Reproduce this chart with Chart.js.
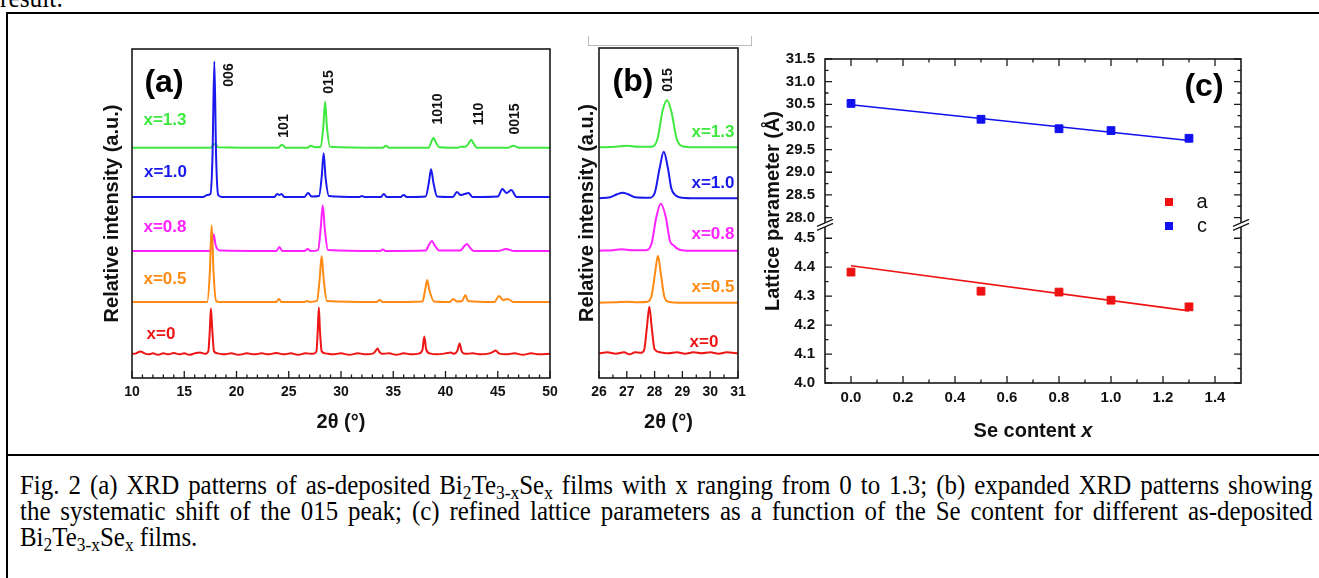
<!DOCTYPE html>
<html lang="en">
<head>
<meta charset="utf-8">
<title>Fig. 2 XRD Bi2Te3-xSex</title>
<script src="https://cdn.jsdelivr.net/npm/chart.js@4.4.0/dist/chart.umd.min.js"></script>
<style>
html,body{margin:0;padding:0;background:#fff}
body{width:1319px;height:578px;overflow:hidden;position:relative;font-family:"Liberation Sans",Arial,sans-serif;color:#111}
canvas{position:absolute}
.cell{position:absolute;left:6px;top:12px;width:1400px;height:600px;border-left:2px solid #000;border-top:2px solid #000}
.sep{position:absolute;left:6px;top:454px;width:1400px;border-top:2px solid #000}
.prev{position:absolute;left:0;top:-13px;font:27px/22px "Liberation Serif","Times New Roman",serif;color:#000;transform:scaleX(.94);transform-origin:0 0}
.cap{position:absolute;left:20px;top:472px;width:1375px;font:26.5px/26px "Liberation Serif","Times New Roman",serif;color:#000;transform:scaleX(.94);transform-origin:0 0}
.cap div{text-align:justify;text-align-last:justify;white-space:nowrap}
.cap div.last{text-align:left;text-align-last:left}
.cap sub{font-size:.7em;line-height:0;vertical-align:-.25em}
.lab{position:absolute;transform:translate(-50%,-50%);font-weight:bold;white-space:nowrap}
.rot{transform:translate(-50%,-50%) rotate(-90deg)}
.bracket{position:absolute;left:588px;top:36px;width:162px;height:9px;border:1.5px solid #bbb;border-top:none}
.sq{position:absolute;width:8px;height:8px;transform:translate(-50%,-50%)}
</style>
</head>
<body>
<div class="prev">result.</div>
<div class="cell"></div>
<div class="sep"></div>
<div class="bracket"></div>

<canvas id="chartA" width="470" height="400" style="left:95px;top:40px"></canvas>
<canvas id="chartB" width="185" height="400" style="left:570px;top:40px"></canvas>
<canvas id="chartC" width="500" height="415" style="left:760px;top:40px"></canvas>

<div id="labels"></div>

<div class="cap">
  <div>Fig. 2 (a) XRD patterns of as-deposited Bi<sub>2</sub>Te<sub>3-x</sub>Se<sub>x</sub> films with x ranging from 0 to 1.3; (b) expanded XRD patterns showing</div>
  <div>the systematic shift of the 015 peak; (c) refined lattice parameters as a function of the Se content for different as-deposited</div>
  <div class="last">Bi<sub>2</sub>Te<sub>3-x</sub>Se<sub>x</sub> films.</div>
</div>

<script>
/* ---------- data ---------- */
const sampleNames = ['x=0', 'x=0.5', 'x=0.8', 'x=1.0', 'x=1.3'];
const sampleColors = ['#ee1515', '#ff8a14', '#ff22ff', '#1a1aee', '#3ee83e'];

/* (a) full patterns: [2theta, intensity above own baseline] */
const offsetsA = [23.7, 76.3, 127.3, 181.5, 231];
const patA_x0 = [[10,0.5],[10.4,1],[10.8,3],[11.2,1],[11.6,0],[12.0,1],[12.5,-0.5],[13.0,1],[13.5,0],[14.0,1.5],[14.5,0],[15.0,1],[15.5,-0.5],[16.0,1],[16.5,2],[17.0,0.5],[17.3,3],[17.45,25],[17.55,46],[17.68,25],[17.85,3],[18.2,1],[18.8,0],[19.5,1],[20.2,-0.5],[21.0,1],[21.7,0],[22.4,1],[23.1,0],[23.8,1.5],[24.5,0],[25.2,1],[25.9,-0.5],[26.6,1],[27.3,0.5],[27.65,3],[27.78,25],[27.88,47],[27.98,25],[28.15,3],[28.5,1],[29.2,0],[30.0,1],[30.8,-0.5],[31.6,1],[32.4,0],[33.1,1],[33.35,4],[33.5,6],[33.65,3],[33.9,0.5],[34.6,1],[35.3,-0.5],[36.0,1],[36.8,0],[37.5,1],[37.8,5],[37.97,18],[38.15,5],[38.5,1],[39.2,0],[40.0,1],[40.5,2],[40.8,0.5],[41.15,4],[41.35,11],[41.55,3],[41.9,0.5],[42.6,1],[43.4,0],[44.2,1],[44.55,2.5],[44.8,4],[45.1,1],[45.8,0],[46.6,1],[47.4,-0.5],[48.2,1],[49.0,0],[50,0.5]];
const patA_x05 = [[10,0],[17.2,0],[17.45,30],[17.62,77],[17.8,30],[18.05,1],[18.4,0],[23.8,0],[24.05,3],[24.3,0],[26.5,0],[26.75,1],[27.0,0],[27.7,1],[27.95,22],[28.15,46],[28.35,22],[28.65,1],[33.4,0],[33.7,2],[34.0,0],[37.8,0.5],[38.05,12],[38.25,22],[38.45,12],[38.9,0.5],[40.4,0],[40.75,3],[41.1,0.5],[41.6,1],[41.9,7],[42.15,1],[44.7,0],[45.1,6],[45.5,2],[45.95,3],[46.5,0],[50,0]];
const patA_x08 = [[10,0],[17.4,0],[17.65,6],[17.82,17],[18.0,6],[18.4,0.5],[23.8,0],[24.1,4],[24.4,0],[26.5,0],[26.8,2],[27.1,0],[27.8,1],[28.05,22],[28.25,46],[28.45,22],[28.75,1],[33.7,0],[34.0,1.5],[34.3,0],[38.1,0.5],[38.45,7],[38.7,10],[38.95,6],[39.4,0.5],[41.4,0.5],[41.8,5],[42.05,7],[42.3,4],[42.7,0],[45.0,0],[45.8,2],[46.6,0],[50,0]];
const patA_x10 = [[10,0],[16.8,0],[17.2,2],[17.5,3],[17.7,40],[17.88,136],[18.05,40],[18.25,2],[18.6,0],[23.6,0],[23.9,3],[24.1,2],[24.3,3],[24.6,0],[26.5,0],[26.85,4],[27.2,0.5],[27.9,1],[28.15,20],[28.34,44],[28.52,20],[28.85,1],[31.7,0],[32.0,1],[32.3,0],[33.8,0],[34.1,3],[34.4,0],[35.7,0],[36.0,2],[36.3,0],[38.1,0.5],[38.4,14],[38.62,28],[38.85,14],[39.2,0.5],[40.7,0],[41.1,5],[41.45,2],[41.8,3],[42.2,4],[42.6,0],[45.0,0.5],[45.45,8],[45.85,4],[46.3,7],[46.8,0],[50,0]];
const patA_x13 = [[10,0],[17.5,0],[17.8,3],[18.0,4],[18.2,0.5],[24.0,0],[24.35,3],[24.7,0],[26.8,0],[27.1,2],[27.5,0.5],[28.05,1],[28.3,20],[28.48,46],[28.66,20],[28.95,1],[34.0,0],[34.3,2],[34.6,0],[38.4,0],[38.65,6],[38.85,10],[39.05,6],[39.4,0.5],[41.2,0],[41.4,1],[41.9,1],[42.2,4],[42.45,8],[42.7,4],[43.0,0],[46.0,0],[46.5,2],[47.0,0],[50,0]];
const patternsA = [patA_x0, patA_x05, patA_x08, patA_x10, patA_x13];
const ticksA = [10, 15, 20, 25, 30, 35, 40, 45, 50];

/* (b) 015 region */
const offsetsB = [24.7, 75.3, 127.3, 179.7, 230.7];
const patB_x0 = [[26,0],[26.3,1],[26.6,-0.5],[26.9,1],[27.1,-1],[27.3,1],[27.5,0.5],[27.62,3],[27.72,25],[27.81,46.6],[27.9,25],[28.0,4],[28.2,1],[28.5,0],[28.8,1],[29.1,-0.5],[29.4,1],[29.7,0],[30.0,1],[30.3,-0.5],[30.6,1],[31,0]];
const patB_x05 = [[26,0],[26.6,0.5],[27.0,1],[27.4,0.5],[27.75,1],[27.9,8],[28.02,30],[28.12,47],[28.22,30],[28.35,6],[28.5,1],[29,0],[31,0]];
const patB_x08 = [[26,0],[26.5,0.5],[26.8,1.5],[27.2,0.5],[27.7,0.5],[27.9,8],[28.05,32],[28.22,47],[28.4,34],[28.55,10],[28.7,5],[28.9,1],[29.3,0],[31,0]];
const patB_x10 = [[26,0],[26.4,1],[26.65,4],[26.85,5.5],[27.05,4],[27.3,1],[27.8,0.5],[28.0,5],[28.18,30],[28.33,46.5],[28.48,30],[28.6,10],[28.75,3],[29.0,0.5],[29.5,0],[31,0]];
const patB_x13 = [[26,0],[26.6,0.5],[27.0,1.5],[27.4,0.5],[27.9,0.5],[28.1,8],[28.3,38],[28.45,47],[28.6,36],[28.8,8],[29.0,1],[29.4,0],[31,0]];
const patternsB = [patB_x0, patB_x05, patB_x08, patB_x10, patB_x13];
const ticksB = [26, 27, 28, 29, 30, 31];

/* (c) lattice parameters */
const seContent = [0, 0.5, 0.8, 1.0, 1.3];
const latticeA = [4.383, 4.317, 4.314, 4.286, 4.263];
const latticeC = [30.52, 30.17, 29.96, 29.92, 29.75];
const fitA = [[0, 4.405], [1.3, 4.249]];
const fitC = [[0, 30.49], [1.3, 29.70]];
const paramNames = ['a', 'c'];
const paramColors = ['#ee1111', '#1111ee'];
const ticksCx = [0, 0.2, 0.4, 0.6, 0.8, 1.0, 1.2, 1.4];
const ticksCupper = [28.0, 28.5, 29.0, 29.5, 30.0, 30.5, 31.0, 31.5];
const ticksClower = [4.0, 4.1, 4.2, 4.3, 4.4, 4.5];

/* ---------- helpers ---------- */
const tickFont = {family: '"Liberation Sans", Arial, sans-serif', size: 14, weight: 'bold'};
const titleFont = {family: '"Liberation Sans", Arial, sans-serif', size: 20, weight: 'bold'};

function frameTicks(spec) {
  return {
    id: 'frameTicks',
    afterDatasetsDraw(chart) {
      const {ctx, chartArea: ca} = chart;
      ctx.save();
      ctx.strokeStyle = '#1a1a1a';
      ctx.lineWidth = 1.6;
      ctx.strokeRect(ca.left, ca.top, ca.right - ca.left, ca.bottom - ca.top);
      ctx.lineWidth = 1.3;
      for (const t of spec.ticks) {
        const s = chart.scales[t.scale];
        const vals = s.ticks.map(k => k.value);
        const marks = [];
        vals.forEach((v, i) => {
          marks.push([v, t.len]);
          if (i < vals.length - 1) {
            for (let k = 1; k < t.sub; k++) marks.push([v + (vals[i + 1] - v) * k / t.sub, t.len / 2]);
          }
        });
        ctx.beginPath();
        for (const [v, len] of marks) {
          const p = s.getPixelForValue(v);
          for (const side of t.sides) {
            if (side === 'bottom') { ctx.moveTo(p, ca.bottom); ctx.lineTo(p, ca.bottom - len); }
            if (side === 'top') { ctx.moveTo(p, ca.top); ctx.lineTo(p, ca.top + len); }
            if (side === 'left') { ctx.moveTo(ca.left, p); ctx.lineTo(ca.left + len, p); }
            if (side === 'right') { ctx.moveTo(ca.right, p); ctx.lineTo(ca.right - len, p); }
          }
        }
        ctx.stroke();
      }
      if (spec.breakScale) {
        const y = chart.scales[spec.breakScale].getPixelForValue(0.65);
        for (const x of [ca.left, ca.right]) {
          ctx.fillStyle = '#fff';
          ctx.beginPath();
          ctx.moveTo(x - 7, y + 1); ctx.lineTo(x + 7, y - 5); ctx.lineTo(x + 7, y - 1); ctx.lineTo(x - 7, y + 5);
          ctx.closePath(); ctx.fill();
          ctx.beginPath();
          ctx.moveTo(x - 8, y + 1.5); ctx.lineTo(x + 8, y - 5.5);
          ctx.moveTo(x - 8, y + 5.5); ctx.lineTo(x + 8, y - 1.5);
          ctx.stroke();
        }
      }
      ctx.restore();
    }
  };
}

function patternDatasets(patterns, offsets) {
  return patterns.map((p, i) => ({
    label: sampleNames[i],
    data: p.map(([x, y]) => ({x, y: y + offsets[i]})),
    borderColor: sampleColors[i],
    borderWidth: 2,
    pointRadius: 0,
    cubicInterpolationMode: 'monotone',
    fill: false
  }));
}

function xrdOptions(xmin, xmax, ticks, pad, yWidth) {
  return {
    responsive: false, animation: false,
    layout: {padding: pad},
    plugins: {legend: {display: false}, tooltip: {enabled: false}},
    scales: {
      x: {
        type: 'linear', min: xmin, max: xmax,
        afterBuildTicks: s => { s.ticks = ticks.map(v => ({value: v})); },
        grid: {display: false, drawTicks: false}, border: {display: false},
        ticks: {font: tickFont, color: '#111', padding: 6, maxRotation: 0, autoSkip: false},
        title: {display: true, text: '2θ (°)', font: titleFont, color: '#111', padding: {top: 0, bottom: 6}},
        afterFit: s => { s.height = 62; }
      },
      y: {
        type: 'linear', min: 0, max: 330,
        grid: {display: false, drawTicks: false}, border: {display: false},
        ticks: {display: false},
        title: {display: true, text: 'Relative intensity (a.u.)', font: titleFont, color: '#111', padding: {top: 5, bottom: 0}},
        afterFit: s => { s.width = yWidth; }
      }
    }
  };
}

/* ---------- (a) ---------- */
new Chart(document.getElementById('chartA'), {
  type: 'line',
  data: {datasets: patternDatasets(patternsA, offsetsA)},
  options: xrdOptions(10, 50, ticksA, {left: 0, top: 9, right: 15, bottom: 0}, 37),
  plugins: [frameTicks({ticks: [{scale: 'x', sides: ['bottom'], len: 7, sub: 5}]})]
});

/* ---------- (b) ---------- */
new Chart(document.getElementById('chartB'), {
  type: 'line',
  data: {datasets: patternDatasets(patternsB, offsetsB)},
  options: xrdOptions(26, 31, ticksB, {left: 0, top: 8, right: 17, bottom: 0}, 29),
  plugins: [frameTicks({ticks: [{scale: 'x', sides: ['bottom'], len: 7, sub: 2}]})]
});

/* ---------- (c) ---------- */
const tickFontC = {...tickFont, size: 15};
const yBase = {
  type: 'linear', position: 'left', stack: 'lat',
  grid: {display: false, drawTicks: false}, border: {display: false},
  afterFit: s => { s.width = 65; }
};
new Chart(document.getElementById('chartC'), {
  type: 'line',
  data: {
    datasets: [
      {label: paramNames[0], data: seContent.map((x, i) => ({x, y: latticeA[i]})), yAxisID: 'yA', showLine: false,
       pointStyle: 'rect', pointRadius: 5.5, pointBorderWidth: 1, backgroundColor: paramColors[0], borderColor: paramColors[0]},
      {label: 'fit a', data: fitA.map(([x, y]) => ({x, y})), yAxisID: 'yA', pointRadius: 0, borderWidth: 1.6, borderColor: paramColors[0]},
      {label: paramNames[1], data: seContent.map((x, i) => ({x, y: latticeC[i]})), yAxisID: 'yC', showLine: false,
       pointStyle: 'rect', pointRadius: 5.5, pointBorderWidth: 1, backgroundColor: paramColors[1], borderColor: paramColors[1]},
      {label: 'fit c', data: fitC.map(([x, y]) => ({x, y})), yAxisID: 'yC', pointRadius: 0, borderWidth: 1.6, borderColor: paramColors[1]}
    ]
  },
  options: {
    responsive: false, animation: false,
    layout: {padding: {left: 0, top: 14, right: 19, bottom: 0}},
    plugins: {legend: {display: false}, tooltip: {enabled: false}},
    scales: {
      x: {
        type: 'linear', min: -0.1, max: 1.5,
        afterBuildTicks: s => { s.ticks = ticksCx.map(v => ({value: v})); },
        grid: {display: false, drawTicks: false}, border: {display: false},
        ticks: {font: tickFontC, color: '#111', padding: 6, maxRotation: 0, autoSkip: false, callback: v => Number(v).toFixed(1)},
        afterFit: s => { s.height = 72; }
      },
      yA: {...yBase, min: 4.0, max: 4.5, stackWeight: 147,
        afterBuildTicks: s => { s.ticks = ticksClower.map(v => ({value: v})); },
        ticks: {font: tickFontC, color: '#111', padding: 10, autoSkip: false, callback: v => Number(v).toFixed(1)}},
      yGap: {...yBase, min: 0, max: 1, stackWeight: 21, ticks: {display: false}},
      yC: {...yBase, min: 28.0, max: 31.5, stackWeight: 161,
        afterBuildTicks: s => { s.ticks = ticksCupper.map(v => ({value: v})); },
        ticks: {font: tickFontC, color: '#111', padding: 10, autoSkip: false, callback: v => Number(v).toFixed(1)}}
    }
  },
  plugins: [frameTicks({
    ticks: [
      {scale: 'x', sides: ['bottom', 'top'], len: 7, sub: 2},
      {scale: 'yC', sides: ['left', 'right'], len: 7, sub: 2},
      {scale: 'yA', sides: ['left', 'right'], len: 7, sub: 2}
    ],
    breakScale: 'yGap'
  })]
});

/* ---------- text overlays ---------- */
const labelPosA = [[161, 334], [165, 279], [165, 227], [165.5, 172], [165, 120]];
const labelPosB = [[704, 342], [713, 287], [713, 234], [713, 183], [713, 132]];
const peakLabels = [['006', 228, 75], ['101', 283, 126], ['015', 328, 82], ['1010', 437, 109], ['110', 478, 114], ['0015', 514, 119], ['015', 667, 80]];
const holder = document.getElementById('labels');
function addText(txt, x, y, style, cls) {
  const d = document.createElement('div');
  d.className = 'lab' + (cls ? ' ' + cls : '');
  d.textContent = txt;
  d.style.left = x + 'px';
  d.style.top = y + 'px';
  Object.assign(d.style, style || {});
  holder.appendChild(d);
  return d;
}
sampleNames.forEach((n, i) => {
  addText(n, labelPosA[i][0], labelPosA[i][1], {color: sampleColors[i], fontSize: '17px'});
  addText(n, labelPosB[i][0], labelPosB[i][1], {color: sampleColors[i], fontSize: '17px'});
});
peakLabels.forEach(([t, x, y]) => addText(t, x, y, {fontSize: '14px', color: '#111'}, 'rot'));
addText('(a)', 164, 81, {fontSize: '32px', color: '#000'});
addText('(b)', 633, 80, {fontSize: '32px', color: '#000'});
addText('(c)', 1204, 85, {fontSize: '32px', color: '#000'});
addText('Lattice parameter (Å)', 772, 211, {fontSize: '20px', color: '#111'}, 'rot');
const xt = addText('', 1033, 430, {fontSize: '20px', color: '#111'});
xt.innerHTML = 'Se content <i>x</i>';
/* legend for (c) */
const legendY = [202, 226];
paramNames.forEach((n, i) => {
  const sq = document.createElement('div');
  sq.className = 'sq';
  sq.style.left = '1169px';
  sq.style.top = legendY[i] + 'px';
  sq.style.background = paramColors[i];
  holder.appendChild(sq);
  addText(n, 1202, legendY[i] - 1, {fontSize: '20px', fontWeight: 'normal', color: '#111'});
});
</script>
</body>
</html>
